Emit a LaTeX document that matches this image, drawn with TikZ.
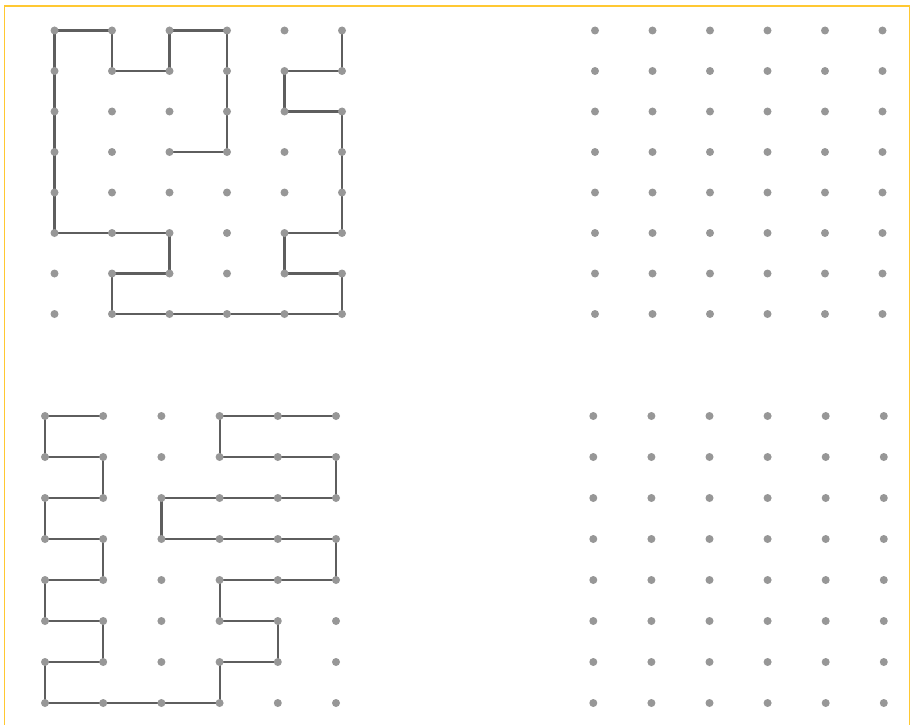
\documentclass[tikz,border=0pt]{standalone}
\usetikzlibrary{backgrounds}
\definecolor{pgframe}{HTML}{FFC832}
\definecolor{pgdot}{HTML}{979797}
\definecolor{pgline}{HTML}{5E5E5E}

\begin{document}
\begin{tikzpicture}[x=1pt,y=-1pt,
  dot/.style={circle,fill=pgdot,inner sep=0pt,minimum size=8pt},
  track/.style={draw=pgline,line width=2.2pt,line join=miter},
  frame/.style={draw=pgframe,line width=1.6pt}
]
\useasboundingbox (0,0) rectangle (911,725);
\draw[frame] (4.5,726) -- (4.5,6) -- (909.5,6) -- (909.5,726);

% four dot grids: name/x0/y0/dx/dy
\foreach \g/\xo/\yo/\dx/\dy in {tl/54.5/30.5/57.5/40.5,tr/595/30.5/57.5/40.5,
                                bl/45/416/58.2/41,br/593.3/416/58.1/41}{
  \foreach \c in {0,...,5}{
    \foreach \r in {0,...,7}{
      \node[dot] (\g-\c-\r) at ({\xo+\c*\dx},{\yo+\r*\dy}) {};
    }
  }
}

\begin{scope}[on background layer]
  % upper path
  \draw[track] (tl-2-3.center)
    \foreach \p in {3-3,3-0,2-0,2-1,1-1,1-0,0-0,0-5,2-5,2-6,1-6,1-7,
                    5-7,5-6,4-6,4-5,5-5,5-2,4-2,4-1,5-1,5-0}{ -- (tl-\p.center)};
  % lower path
  \draw[track] (bl-1-0.center)
    \foreach \p in {0-0,0-1,1-1,1-2,0-2,0-3,1-3,1-4,0-4,0-5,1-5,1-6,0-6,0-7,
                    3-7,3-6,4-6,4-5,3-5,3-4,5-4,5-3,2-3,2-2,5-2,5-1,3-1,3-0,5-0}{ -- (bl-\p.center)};
\end{scope}
\end{tikzpicture}
\end{document}
